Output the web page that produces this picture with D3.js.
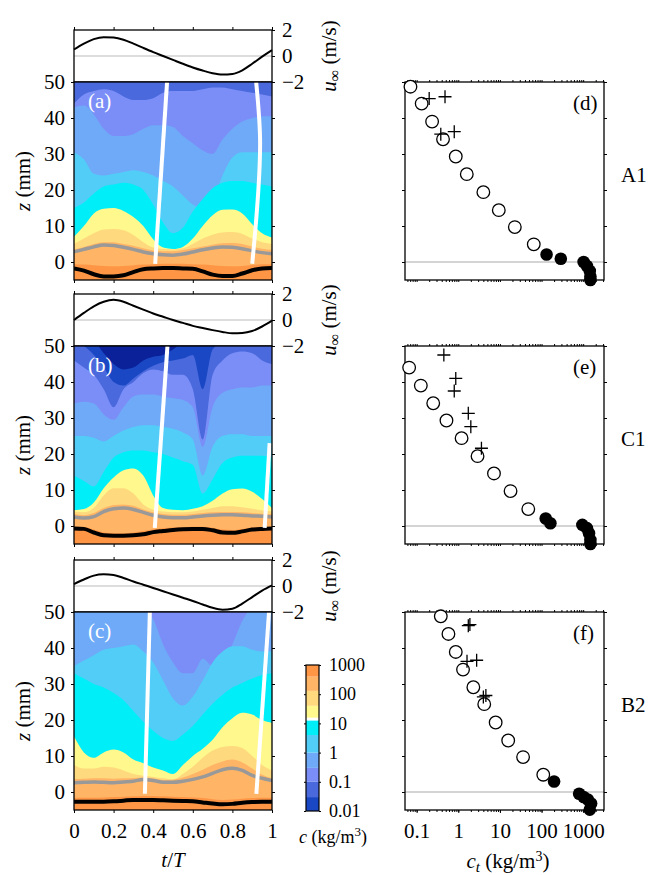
<!DOCTYPE html>
<html>
<head>
<meta charset="utf-8">
<script src="https://cdn.jsdelivr.net/npm/d3@7"></script>
<style>
body { margin: 0; background: #fff; }
svg text { font-family: "Liberation Serif", "Times New Roman", "DejaVu Serif", serif !important; }
</style>
</head>
<body>
<svg id="fig" width="650" height="875"></svg>
<script>
// phase of the wave period
var tGrid = [0, 0.05, 0.1, 0.15, 0.2, 0.25, 0.3, 0.35, 0.4, 0.45, 0.5, 0.55, 0.6, 0.65, 0.7, 0.75, 0.8, 0.85, 0.9, 0.95, 1];

// free stream velocity u_inf (m/s)
var uA = [0.5, 0.95, 1.3, 1.45, 1.42, 1.25, 0.95, 0.62, 0.3, 0.0, -0.3, -0.6, -0.88, -1.12, -1.32, -1.42, -1.38, -1.1, -0.6, -0.05, 0.45];
var uB = [0.0, 0.55, 1.05, 1.4, 1.55, 1.4, 1.1, 0.8, 0.5, 0.25, 0.0, -0.22, -0.45, -0.62, -0.78, -0.92, -1.02, -1.0, -0.85, -0.5, -0.05];
var uC = [0.15, 0.5, 0.8, 0.9, 0.85, 0.62, 0.35, 0.1, -0.15, -0.4, -0.65, -0.9, -1.15, -1.42, -1.68, -1.82, -1.75, -1.35, -0.85, -0.35, 0.05];

// concentration levels (kg/m3) and colour of each band
var isoLevels = [0.01, 0.03, 0.1, 0.3, 1, 4, 14, 40, 130, 400];
var bandColors = ["#0b2199", "#1a48c4", "#4a69dd", "#7b8ef7", "#6eaaf8", "#52cdf7", "#00eef8", "#fff88c", "#ffd97e", "#ffb466", "#ff9646"];

// run A1 : height (mm) of each iso-concentration line
var aIso0_1 = [44.0, 46.5, 47.5, 48.0, 47.5, 46.0, 45.0, 45.0, 45.5, 47.0, 47.5, 47.5, 47.5, 48.0, 48.5, 48.5, 48.0, 47.5, 47.0, 46.5, 46.0];
var aIso0_3 = [43.0, 43.5, 41.0, 37.0, 35.0, 35.0, 35.5, 37.0, 38.0, 38.0, 37.5, 35.0, 33.0, 31.0, 30.0, 34.0, 37.0, 39.0, 40.0, 40.5, 40.5];
var aIso1 = [30.5, 28.5, 24.5, 24.0, 24.5, 25.0, 25.5, 25.0, 24.0, 22.5, 21.0, 18.5, 16.0, 15.0, 17.0, 24.0, 29.0, 30.5, 30.5, 30.5, 30.5];
var aIso4 = [15.0, 16.5, 19.0, 21.0, 21.5, 22.0, 21.5, 20.0, 16.0, 11.0, 8.0, 9.5, 14.0, 17.5, 20.5, 22.0, 22.5, 22.5, 22.0, 21.5, 21.0];
var aIso14 = [7.0, 10.0, 13.5, 14.8, 15.0, 14.2, 12.5, 10.0, 6.3, 4.0, 3.6, 4.2, 6.5, 10.0, 13.0, 14.5, 14.6, 13.5, 10.5, 8.0, 6.8];
var aIso40 = [5.0, 6.5, 8.0, 9.0, 9.2, 8.8, 7.5, 5.5, 4.0, 3.6, 3.5, 3.8, 5.0, 6.5, 7.6, 8.2, 8.3, 7.8, 6.5, 5.5, 5.0];
var aIso130 = [3.5, 4.2, 5.0, 5.5, 5.5, 5.0, 4.5, 3.8, 3.2, 3.0, 3.0, 3.3, 3.8, 4.3, 4.8, 5.2, 5.3, 5.0, 4.3, 3.7, 3.4];
var aIso400 = [-0.6, -0.7, -0.9, -1.1, -1.2, -1.1, -0.9, -0.7, -0.6, -0.5, -0.5, -0.5, -0.6, -0.7, -0.9, -1.1, -1.2, -1.1, -0.8, -0.6, -0.6];
var aGray = [2.8, 3.5, 4.2, 4.7, 4.6, 4.1, 3.5, 2.8, 2.3, 2.0, 1.9, 2.2, 2.8, 3.4, 3.9, 4.2, 4.1, 3.7, 3.1, 2.6, 2.3];
var aBlack = [-1.8, -2.4, -3.4, -4.0, -4.0, -3.7, -2.8, -2.0, -1.8, -1.7, -1.7, -1.8, -1.9, -2.6, -3.5, -3.9, -3.9, -3.2, -2.3, -1.8, -1.7];
var aTrack1 = [[0.47, 50], [0.41, -0.5]];
var aTrack2 = [[0.92, 50], [0.94, 33], [0.90, -0.5]];

// run C1
var bIso0_01 = [51, 51, 51, 48.0, 45.0, 43.5, 44.0, 46.0, 47.0, 47.5, 49.0, 51, 51, 51, 51, 51, 51, 51, 51, 51, 51];
var bIso0_03 = [51, 50.0, 47.5, 44.0, 40.0, 39.0, 41.0, 43.0, 44.5, 45.5, 46.0, 46.5, 47.5, 38.0, 49.0, 51, 51, 51, 51, 51, 51];
var bIso0_1 = [46.0, 44.0, 42.0, 38.0, 33.0, 38.0, 40.0, 42.5, 43.5, 43.0, 42.0, 42.0, 38.0, 24.0, 42.0, 46.0, 48.0, 48.5, 48.0, 46.0, 45.0];
var bIso0_3 = [34.0, 34.5, 34.0, 31.0, 29.5, 33.0, 36.0, 36.5, 36.5, 36.0, 35.5, 35.0, 33.0, 22.0, 33.0, 37.0, 38.0, 38.5, 38.5, 39.0, 39.0];
var bIso1 = [25.0, 25.0, 24.5, 23.5, 25.0, 26.5, 27.5, 28.0, 28.0, 27.5, 27.0, 26.0, 24.0, 14.0, 22.0, 25.0, 25.5, 25.5, 25.0, 25.0, 25.0];
var bIso4 = [14.0, 12.5, 11.0, 15.0, 19.0, 20.5, 21.0, 21.0, 20.5, 20.0, 19.0, 18.0, 17.0, 9.0, 13.0, 17.5, 19.0, 19.5, 19.5, 19.5, 19.0];
var bIso14 = [4.4, 4.7, 6.5, 10.5, 13.5, 15.5, 16.0, 14.0, 8.5, 5.0, 4.5, 4.4, 4.8, 5.5, 7.0, 9.0, 10.2, 10.4, 9.5, 7.5, 5.0];
var bIso40 = [4.0, 3.8, 5.0, 8.5, 10.5, 10.5, 9.0, 6.0, 4.5, 4.0, 3.8, 3.8, 4.0, 4.5, 5.0, 5.5, 5.5, 5.2, 4.8, 4.3, 4.0];
var bIso130 = [3.3, 3.0, 3.6, 5.0, 5.8, 6.0, 5.6, 4.6, 3.8, 3.3, 3.1, 3.1, 3.3, 3.6, 3.8, 3.9, 3.9, 3.8, 3.6, 3.4, 3.3];
var bIso400 = [-0.3, -0.3, -1.0, -1.8, -2.0, -2.0, -1.8, -1.4, -0.9, -0.6, -0.4, -0.3, -0.2, -0.2, -0.5, -1.0, -1.1, -0.8, -0.4, -0.3, -0.3];
var bGray = [2.5, 2.2, 2.6, 4.0, 4.8, 5.0, 4.6, 3.8, 3.0, 2.5, 2.3, 2.3, 2.5, 2.8, 3.0, 3.1, 3.1, 3.0, 2.8, 2.7, 2.5];
var bBlack = [-0.7, -0.8, -1.8, -2.6, -2.7, -2.7, -2.6, -2.3, -1.7, -1.4, -1.1, -0.9, -0.8, -0.8, -1.2, -1.8, -1.9, -1.5, -1.0, -0.8, -0.7];
var bTrack1 = [[0.472, 50], [0.408, -0.5]];
var bTrack2 = [[0.988, 23], [0.963, -0.5]];

// run B2
var cIso0_3 = [51, 51, 51, 51, 51, 51, 51, 51, 48.0, 41.0, 36.0, 33.0, 33.0, 37.0, 35.0, 35.5, 41.0, 47.5, 51, 51, 51];
var cIso1 = [35.0, 36.5, 38.0, 39.5, 40.0, 40.5, 41.0, 39.0, 36.0, 31.0, 26.0, 24.0, 26.5, 31.0, 36.0, 39.0, 40.5, 40.5, 39.5, 39.0, 39.0];
var cIso4 = [33.0, 31.5, 30.0, 29.0, 27.5, 25.5, 22.5, 19.5, 17.0, 15.0, 14.2, 16.0, 18.3, 21.5, 24.5, 27.0, 29.0, 30.3, 31.5, 32.5, 33.0];
var cIso14 = [15.5, 11.0, 9.5, 11.0, 11.8, 11.0, 9.0, 8.0, 6.8, 6.0, 5.0, 7.5, 10.0, 12.0, 14.5, 18.0, 20.5, 22.0, 21.5, 20.0, 19.2];
var cIso40 = [7.5, 6.5, 6.5, 7.0, 6.8, 6.0, 5.0, 4.5, 4.2, 3.8, 3.5, 5.0, 7.0, 9.5, 11.5, 12.5, 12.8, 12.2, 10.0, 7.5, 6.0];
var cIso130 = [3.6, 3.7, 3.8, 3.8, 3.7, 3.8, 3.9, 4.0, 3.8, 3.3, 3.4, 4.0, 5.0, 6.2, 7.5, 8.5, 9.0, 8.2, 6.5, 4.8, 3.8];
var cIso400 = [-1.6, -1.6, -1.6, -1.5, -1.4, -1.3, -1.2, -1.1, -1.1, -1.2, -1.3, -1.4, -1.5, -1.7, -2.0, -2.2, -2.1, -1.9, -1.7, -1.6, -1.6];
var cGray = [2.6, 2.7, 2.8, 2.7, 2.6, 2.8, 3.0, 3.5, 3.2, 2.7, 2.7, 3.0, 3.5, 4.2, 5.2, 6.2, 6.6, 6.0, 4.6, 3.8, 3.2];
var cBlack = [-2.7, -2.7, -2.7, -2.7, -2.6, -2.4, -2.2, -2.2, -2.2, -2.3, -2.4, -2.5, -2.6, -2.9, -3.2, -3.4, -3.3, -3.0, -2.8, -2.7, -2.7];
var cTrack1 = [[0.383, 50], [0.358, -0.5]];
var cTrack2 = [[0.985, 50], [0.921, -0.5]];

// time averaged profiles: [c_t (kg/m3), z (mm)]
var dOpen = [[0.071, 48.7], [0.132, 44], [0.235, 39], [0.43, 34.1], [0.87, 29.3], [1.6, 24.4], [4.0, 19.4], [9.4, 14.4], [22.8, 9.7], [65, 4.9]];
var dFilled = [[132, 2.1], [290, 0.9], [1025, 0.0], [1230, -1.1], [1440, -2.5], [1490, -4.0], [1490, -5.0]];
var dPlus = [[0.2, 45.4], [0.48, 45.9], [0.38, 35.5], [0.8, 36.2]];
var eOpen = [[0.066, 44], [0.126, 39], [0.25, 34.1], [0.52, 29.3], [1.2, 24.4], [2.9, 19.4], [7.2, 14.6], [18, 9.7], [48, 4.7]];
var eFilled = [[126, 2.1], [163, 0.75], [955, 0.3], [1230, -0.6], [1380, -2.0], [1490, -3.9], [1490, -5.0]];
var ePlus = [[0.45, 47.5], [0.87, 41], [0.8, 37.5], [1.74, 31.3], [2.0, 27.6], [3.6, 21.6]];
var fOpen = [[0.38, 48.8], [0.58, 43.9], [0.87, 38.9], [1.3, 34], [2.3, 29.1], [4.2, 24.4], [7.9, 19.3], [15.8, 14.3], [36, 9.7], [110, 4.8]];
var fFilled = [[200, 2.9], [800, -0.5], [1025, -1.4], [1290, -2.1], [1550, -3.2], [1440, -4.9]];
var fPlus = [[1.74, 46.2], [1.9, 46.5], [1.62, 36.3], [2.76, 36.6], [4.0, 26.4], [4.6, 26.8]];

var tTicks = [0, 0.2, 0.4, 0.6, 0.8, 1];
var zTicks = [0, 10, 20, 30, 40, 50];
var uTicks = [-2, 0, 2];
var cTicks = [0.1, 1, 10, 100, 1000];
var cbTicks = [0.01, 0.1, 1, 10, 100, 1000];

var panels = [
	{top: 30, u: uA, label: "(a)", right: "(d)", run: "A1", gray: aGray, black: aBlack, tracks: [aTrack1, aTrack2],
	 iso: [[0.1, aIso0_1], [0.3, aIso0_3], [1, aIso1], [4, aIso4], [14, aIso14], [40, aIso40], [130, aIso130], [400, aIso400]],
	 open: dOpen, filled: dFilled, plus: dPlus},
	{top: 294, u: uB, label: "(b)", right: "(e)", run: "C1", gray: bGray, black: bBlack, tracks: [bTrack1, bTrack2],
	 iso: [[0.01, bIso0_01], [0.03, bIso0_03], [0.1, bIso0_1], [0.3, bIso0_3], [1, bIso1], [4, bIso4], [14, bIso14], [40, bIso40], [130, bIso130], [400, bIso400]],
	 open: eOpen, filled: eFilled, plus: ePlus},
	{top: 560, u: uC, label: "(c)", right: "(f)", run: "B2", gray: cGray, black: cBlack, tracks: [cTrack1, cTrack2],
	 iso: [[0.3, cIso0_3], [1, cIso1], [4, cIso4], [14, cIso14], [40, cIso40], [130, cIso130], [400, cIso400]],
	 open: fOpen, filled: fFilled, plus: fPlus}
];

var FONT = "'Liberation Serif', 'Times New Roman', 'DejaVu Serif', serif";
var svg = d3.select("#fig").attr("font-family", FONT);

// escalas comuns
var x = d3.scaleLinear().domain([0, 1]).range([74, 272]);
var xc = d3.scaleLog().domain([0.0525, 3162]).range([405, 604]);

// minor log ticks for the profile boxes
var minorTicks = [];
for (var k = -2; k <= 3; k++) {
	for (var m = 1; m <= 9; m++) {
		var v = m * Math.pow(10, k);
		if (v > 0.0525 && v < 3162) minorTicks.push(v);
	}
}

function bandColor(level) {
	return bandColors[isoLevels.indexOf(level) + 1];
}

function styleAxis(g, fs) {
	g.attr("font-family", FONT).attr("font-size", fs);
	g.select(".domain").remove();
	g.selectAll(".tick line").attr("stroke", "#000").attr("stroke-width", 1);
	g.selectAll(".tick text").attr("fill", "#000");
}

panels.forEach(function(p, k) {
	var vTop = p.top;
	var cTop = vTop + 52;
	var cBot = cTop + 198;

	var y = d3.scaleLinear().domain([-5, 50]).range([cBot, cTop]);
	var yu = d3.scaleLinear().domain([-2, 2]).range([cTop, vTop]);

	// painel de velocidade
	svg.append("line")
		.attr("x1", x(0)).attr("x2", x(1))
		.attr("y1", yu(0)).attr("y2", yu(0))
		.attr("stroke", "#bbb").attr("stroke-width", 1);

	var uLine = d3.line()
		.x(function(d, i) { return x(tGrid[i]); })
		.y(function(d) { return yu(d); })
		.curve(d3.curveMonotoneX);
	svg.append("path").datum(p.u)
		.attr("d", uLine)
		.attr("fill", "none").attr("stroke", "#000").attr("stroke-width", 2);

	svg.append("rect")
		.attr("x", x(0)).attr("y", vTop)
		.attr("width", x(1) - x(0)).attr("height", cTop - vTop)
		.attr("fill", "none").attr("stroke", "#000").attr("stroke-width", 1.3);

	var gu = svg.append("g").attr("transform", "translate(" + x(1) + ",0)")
		.call(d3.axisRight(yu).tickValues(uTicks).tickSize(3).tickPadding(7)
			.tickFormat(function(d) { return d < 0 ? "\u22122" : d; }));
	styleAxis(gu, 21);
	var gt = svg.append("g").attr("transform", "translate(0," + vTop + ")")
		.call(d3.axisTop(x).tickValues(tTicks).tickSize(3).tickFormat(""));
	styleAxis(gt, 21);

	var ul = svg.append("text")
		.attr("transform", "translate(336," + (vTop + 26) + ") rotate(-90)")
		.attr("text-anchor", "middle").attr("font-size", 21);
	ul.append("tspan").attr("font-style", "italic").text("u");
	ul.append("tspan").attr("dy", 4).attr("font-size", 16).text("\u221e");
	ul.append("tspan").attr("dy", -4).text(" (m/s)");

	// painel de concentracao
	svg.append("clipPath").attr("id", "clip" + k)
		.append("rect")
		.attr("x", x(0)).attr("y", cTop)
		.attr("width", x(1) - x(0)).attr("height", cBot - cTop);
	var g = svg.append("g").attr("clip-path", "url(#clip" + k + ")");

	g.append("rect")
		.attr("x", x(0)).attr("y", cTop)
		.attr("width", x(1) - x(0)).attr("height", cBot - cTop)
		.attr("fill", bandColors[isoLevels.indexOf(p.iso[0][0])]);

	var area = d3.area()
		.x(function(d, i) { return x(tGrid[i]); })
		.y0(cBot + 2)
		.y1(function(d) { return y(d); })
		.curve(d3.curveMonotoneX);
	p.iso.forEach(function(iso) {
		g.append("path").datum(iso[1])
			.attr("d", area)
			.attr("fill", bandColor(iso[0]));
	});

	var zLine = d3.line()
		.x(function(d, i) { return x(tGrid[i]); })
		.y(function(d) { return y(d); })
		.curve(d3.curveMonotoneX);
	g.append("path").datum(p.gray)
		.attr("d", zLine)
		.attr("fill", "none").attr("stroke", "#999").attr("stroke-width", 3.5);
	g.append("path").datum(p.black)
		.attr("d", zLine)
		.attr("fill", "none").attr("stroke", "#000").attr("stroke-width", 4);

	var tLine = d3.line()
		.x(function(d) { return x(d[0]); })
		.y(function(d) { return y(d[1]); })
		.curve(d3.curveMonotoneY);
	p.tracks.forEach(function(tr) {
		g.append("path").datum(tr)
			.attr("d", tLine)
			.attr("fill", "none").attr("stroke", "#fff").attr("stroke-width", 4);
	});

	svg.append("rect")
		.attr("x", x(0)).attr("y", cTop)
		.attr("width", x(1) - x(0)).attr("height", cBot - cTop)
		.attr("fill", "none").attr("stroke", "#000").attr("stroke-width", 1.3);

	var gl = svg.append("g").attr("transform", "translate(" + x(0) + ",0)")
		.call(d3.axisLeft(y).tickValues(zTicks).tickSize(3).tickPadding(6));
	styleAxis(gl, 21);
	var gr = svg.append("g").attr("transform", "translate(" + x(1) + ",0)")
		.call(d3.axisRight(y).tickValues(zTicks).tickSize(3).tickFormat(""));
	styleAxis(gr, 21);
	var gb = svg.append("g").attr("transform", "translate(0," + cBot + ")")
		.call(d3.axisBottom(x).tickValues(tTicks).tickSize(3).tickPadding(10)
			.tickFormat(k === 2 ? d3.format("~g") : ""));
	styleAxis(gb, 21);

	svg.append("text")
		.attr("x", 88).attr("y", cTop + 26)
		.attr("fill", "#fff").attr("font-size", 21)
		.text(p.label);

	var zl = svg.append("text")
		.attr("transform", "translate(30," + ((cTop + cBot) / 2) + ") rotate(-90)")
		.attr("text-anchor", "middle").attr("font-size", 21);
	zl.append("tspan").attr("font-style", "italic").text("z");
	zl.append("tspan").text(" (mm)");

	// perfis medios
	var bx = xc.range();
	svg.append("line")
		.attr("x1", bx[0]).attr("x2", bx[1])
		.attr("y1", y(0)).attr("y2", y(0))
		.attr("stroke", "#aaa").attr("stroke-width", 1.2);

	var pl = svg.append("g").attr("transform", "translate(" + bx[0] + ",0)")
		.call(d3.axisLeft(y).tickValues(zTicks).tickSize(3).tickFormat(""));
	styleAxis(pl, 21);
	var pr = svg.append("g").attr("transform", "translate(" + bx[1] + ",0)")
		.call(d3.axisRight(y).tickValues(zTicks).tickSize(3).tickFormat(""));
	styleAxis(pr, 21);
	var pt = svg.append("g").attr("transform", "translate(0," + cTop + ")")
		.call(d3.axisTop(xc).tickValues(minorTicks).tickSize(2).tickFormat(""));
	styleAxis(pt, 21);
	var pb = svg.append("g").attr("transform", "translate(0," + cBot + ")")
		.call(d3.axisBottom(xc).tickValues(minorTicks).tickSize(2).tickFormat(""));
	styleAxis(pb, 21);
	if (k === 2) {
		var pbl = svg.append("g").attr("transform", "translate(0," + cBot + ")")
			.call(d3.axisBottom(xc).tickValues(cTicks).tickSize(3).tickPadding(10)
				.tickFormat(d3.format("~g")));
		styleAxis(pbl, 21);
	}

	svg.append("rect")
		.attr("x", bx[0]).attr("y", cTop)
		.attr("width", bx[1] - bx[0]).attr("height", cBot - cTop)
		.attr("fill", "none").attr("stroke", "#000").attr("stroke-width", 1.3);

	svg.selectAll(null).data(p.open).enter().append("circle")
		.attr("cx", function(d) { return xc(d[0]); })
		.attr("cy", function(d) { return y(d[1]); })
		.attr("r", 6.3)
		.attr("fill", "#fff").attr("stroke", "#000").attr("stroke-width", 1.3);
	svg.selectAll(null).data(p.filled).enter().append("circle")
		.attr("cx", function(d) { return xc(d[0]); })
		.attr("cy", function(d) { return y(d[1]); })
		.attr("r", 6.3)
		.attr("fill", "#000");
	svg.selectAll(null).data(p.plus).enter().append("path")
		.attr("transform", function(d) { return "translate(" + xc(d[0]) + "," + y(d[1]) + ")"; })
		.attr("d", "M-6.5,0H6.5M0,-6.5V6.5")
		.attr("stroke", "#000").attr("stroke-width", 1.3);

	svg.append("text")
		.attr("x", 573).attr("y", cTop + 28)
		.attr("font-size", 21)
		.text(p.right);
	svg.append("text")
		.attr("x", 621).attr("y", cTop + 100)
		.attr("font-size", 21)
		.text(p.run);
});

// t/T
var tl = svg.append("text")
	.attr("x", 173).attr("y", 867)
	.attr("text-anchor", "middle").attr("font-size", 21);
tl.append("tspan").attr("font-style", "italic").text("t");
tl.append("tspan").text("/");
tl.append("tspan").attr("font-style", "italic").text("T");

// c_t (kg/m3)
var ctl = svg.append("text")
	.attr("x", 508).attr("y", 868)
	.attr("text-anchor", "middle").attr("font-size", 21);
ctl.append("tspan").attr("font-style", "italic").text("c");
ctl.append("tspan").attr("font-style", "italic").attr("dy", 4).attr("font-size", 15).text("t");
ctl.append("tspan").attr("dy", -4).text(" (kg/m");
ctl.append("tspan").attr("dy", -7).attr("font-size", 14).text("3");
ctl.append("tspan").attr("dy", 7).text(")");

// barra de cores
var cb = d3.scaleLog().domain([0.01, 1000]).range([811, 665]);
for (var i = 1; i < bandColors.length; i++) {
	var lo = isoLevels[i - 1];
	var hi = i < isoLevels.length ? isoLevels[i] : 1000;
	svg.append("rect")
		.attr("x", 306).attr("y", cb(hi))
		.attr("width", 13).attr("height", cb(lo) - cb(hi))
		.attr("fill", bandColors[i]);
}
svg.append("line")
	.attr("x1", 306).attr("x2", 319)
	.attr("y1", cb(14)).attr("y2", cb(14))
	.attr("stroke", "#fff").attr("stroke-width", 3);
svg.append("rect")
	.attr("x", 306).attr("y", 665)
	.attr("width", 13).attr("height", 146)
	.attr("fill", "none").attr("stroke", "#000").attr("stroke-width", 1.2);
var cbl = svg.append("g").attr("transform", "translate(306,0)")
	.call(d3.axisLeft(cb).tickValues(cbTicks).tickSize(2).tickFormat(""));
styleAxis(cbl, 18);
var cbr = svg.append("g").attr("transform", "translate(319,0)")
	.call(d3.axisRight(cb).tickValues(cbTicks).tickSize(2).tickPadding(8)
		.tickFormat(d3.format("~g")));
styleAxis(cbr, 18);

var cbt = svg.append("text")
	.attr("x", 333).attr("y", 843)
	.attr("text-anchor", "middle").attr("font-size", 18);
cbt.append("tspan").attr("font-style", "italic").text("c");
cbt.append("tspan").text(" (kg/m");
cbt.append("tspan").attr("dy", -7).attr("font-size", 13).text("3");
cbt.append("tspan").attr("dy", 7).text(")");
</script>
</body>
</html>
